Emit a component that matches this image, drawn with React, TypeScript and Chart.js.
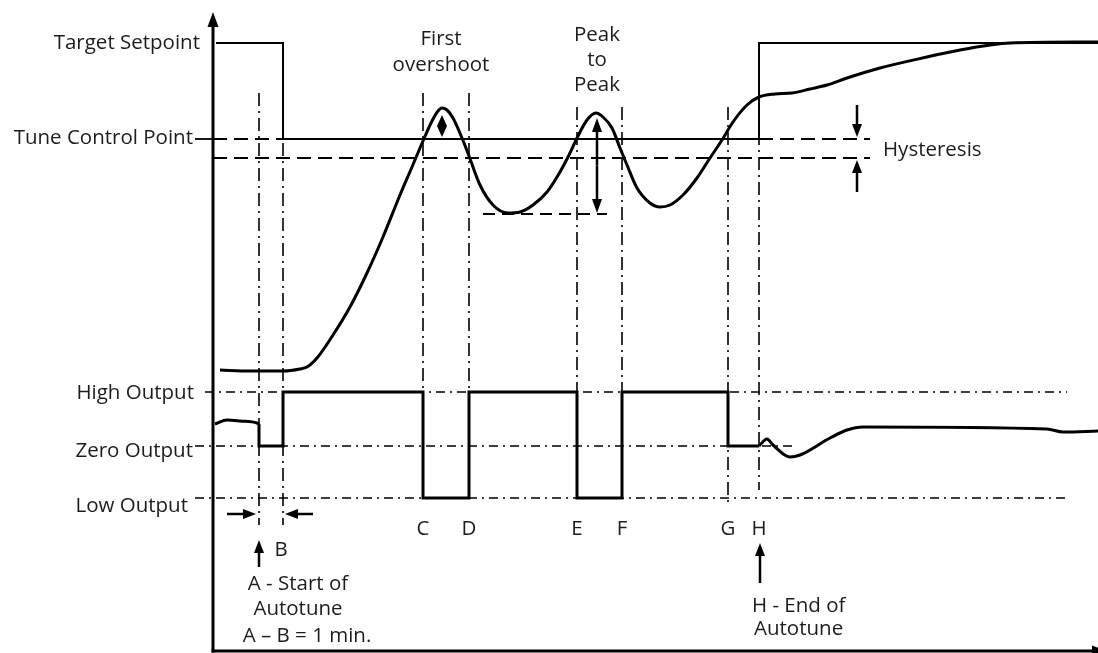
import React, { useEffect, useRef } from 'react';
import { Chart, registerables } from 'chart.js';

Chart.register(...registerables);

// ---- Data (time units along x, signal level along y; 0 = axes origin) ----
const setpointTime = [3, 70, 70, 546, 546, 885];
const setpointValue = [608, 608, 512, 512, 608, 608];

const pvTime = [7, 37, 70, 87, 94, 104, 120, 137, 154, 170, 187, 199, 210, 219, 225, 229, 234, 240, 249, 256, 267, 280, 295, 307, 320, 334, 347, 357, 364, 374, 383, 390, 399, 407, 414, 424, 437, 447, 457, 470, 484, 497, 509, 520, 534, 546, 562, 579, 597, 614, 634, 667, 714, 747, 777, 797, 885];
const pvValue = [281, 280, 280, 282, 284, 293, 316, 344, 378, 414, 456, 484, 510, 530, 540, 543, 541, 533, 513, 495, 466, 446, 438, 439, 446, 459, 479, 498, 513, 531, 538, 534, 523, 503, 486, 463, 448, 444, 446, 456, 473, 493, 511, 529, 546, 554, 557, 558, 562, 566, 573, 583, 594, 601, 606, 608, 609];

const outStartTime = [2, 14, 27, 44, 46];
const outStartValue = [227, 231, 230, 228, 227];
const outStepTime = [46, 46, 70, 70, 210, 210, 256, 256, 364, 364, 409, 409, 515, 515, 546];
const outStepValue = [227, 205, 205, 259, 259, 153, 153, 259, 259, 153, 153, 259, 259, 205, 205];
const outEndTime = [546, 554, 560, 577, 587, 617, 634, 650, 834, 850, 885];
const outEndValue = [205, 212, 206, 194, 196, 213, 221, 224, 222, 219, 220];

// reference levels
const levelNames = ['Target Setpoint', 'Tune Control Point', 'High Output', 'Zero Output', 'Low Output'];
const levelLabelTime = [-13, -20, -19, -20, -25];
const levelLabelValue = [609, 514, 259, 201, 146];
const tuneControlPoint = 512;
const hysteresisLow = 493;
const highOutput = 259;
const zeroOutput = 205;
const lowOutput = 153;
const bandEnd = 657;
const highEnd = 854;
const zeroEnd = 579;
const lowEnd = 855;
const leaderStart = -18;
const highLeaderStart = -8;

// event markers A..H
const eventNames = ['A', 'B', 'C', 'D', 'E', 'F', 'G', 'H'];
const eventTimes = [46, 70, 210, 256, 364, 409, 515, 546];
const eventTop = [558, 558, 558, 558, 544, 544, 544, 544];
const eventBottom = [126, 126, 153, 153, 153, 153, 149, 161];
const letterLevel = 123;

// trough marker for peak-to-peak
const troughLevel = 437;
const troughStart = 270;
const troughEnd = 394;

// annotation texts
const noteTexts = ['First', 'overshoot', 'Peak', 'to', 'Peak', 'Hysteresis', 'B', 'A - Start of', 'Autotune', 'A \u2013 B = 1 min.', 'H - End of', 'Autotune'];
const noteTime = [228, 228, 384, 384, 384, 670, 68, 85, 85, 94, 539, 541];
const noteValue = [613, 587, 617, 592, 567, 502, 102, 68, 43, 16, 46, 23];
const noteAlign = ['center', 'center', 'center', 'center', 'center', 'left', 'center', 'center', 'center', 'center', 'left', 'left'];

// arrows: [fromTime, fromValue, toTime, toValue]
const arrowFromTime = [644, 644, 46, 547, 14, 100];
const arrowFromValue = [546, 459, 84, 68, 137, 137];
const arrowToTime = [644, 644, 46, 547, 43, 72];
const arrowToValue = [514, 491, 111, 108, 137, 137];

// double arrows: [time, lowValue, highValue]
const dblTime = [229, 384];
const dblLow = [514, 438];
const dblHigh = [536, 533];

const zip = (xs: number[], ys: number[]) => xs.map((x, i) => ({ x, y: ys[i] }));

const DASH = [14, 7];
const DASHDOT_V = [13, 5, 2, 5];
const DASHDOT_H = [9, 5, 2, 5];

function line(data: { x: number; y: number }[], width: number, dash: number[] = [], smooth = false) {
  return {
    data,
    showLine: true,
    borderColor: '#000',
    backgroundColor: '#000',
    borderWidth: width,
    borderDash: dash,
    pointRadius: 0,
    fill: false,
    clip: false as any,
    tension: 0,
    cubicInterpolationMode: smooth ? 'monotone' : 'default',
    borderJoinStyle: 'miter',
    borderCapStyle: 'butt',
  } as any;
}

function drawArrow(ctx: CanvasRenderingContext2D, x1: number, y1: number, x2: number, y2: number, head = 13, w = 10, lw = 2.5) {
  const a = Math.atan2(y2 - y1, x2 - x1);
  const bx = x2 - head * Math.cos(a);
  const by = y2 - head * Math.sin(a);
  ctx.lineWidth = lw;
  ctx.beginPath();
  ctx.moveTo(x1, y1);
  ctx.lineTo(bx, by);
  ctx.stroke();
  ctx.beginPath();
  ctx.moveTo(x2, y2);
  ctx.lineTo(bx + (w / 2) * Math.sin(a), by - (w / 2) * Math.cos(a));
  ctx.lineTo(bx - (w / 2) * Math.sin(a), by + (w / 2) * Math.cos(a));
  ctx.closePath();
  ctx.fill();
}

const FONT = '20.5px "Open Sans", sans-serif';
const CAP_HALF = 7;

const annotations = {
  id: 'annotations',
  afterDatasetsDraw(chart: any) {
    const { ctx, chartArea } = chart;
    const xs = chart.scales.x;
    const ys = chart.scales.y;
    const px = (v: number) => xs.getPixelForValue(v);
    const py = (v: number) => ys.getPixelForValue(v);
    ctx.save();
    ctx.strokeStyle = '#000';
    ctx.fillStyle = '#000';
    ctx.setLineDash([]);
    ctx.lineCap = 'butt';

    // axes
    ctx.lineWidth = 3;
    ctx.beginPath();
    ctx.moveTo(chartArea.left, chartArea.bottom + 1.5);
    ctx.lineTo(chartArea.left, chartArea.top + 10);
    ctx.stroke();
    drawArrow(ctx, chartArea.left, chartArea.top + 10, chartArea.left, chartArea.top, 15, 11, 3);
    ctx.beginPath();
    ctx.moveTo(chartArea.left - 1.5, chartArea.bottom);
    ctx.lineTo(chartArea.right - 8, chartArea.bottom);
    ctx.stroke();
    drawArrow(ctx, chartArea.right - 8, chartArea.bottom, chartArea.right + 8, chartArea.bottom, 14, 11, 3);

    // arrows
    for (let i = 0; i < arrowFromTime.length; i++) {
      drawArrow(ctx, px(arrowFromTime[i]), py(arrowFromValue[i]), px(arrowToTime[i]), py(arrowToValue[i]), 13, 10, 2.5);
    }
    for (let i = 0; i < dblTime.length; i++) {
      const mid = (dblLow[i] + dblHigh[i]) / 2;
      const head = i === 0 ? 11 : 14;
      drawArrow(ctx, px(dblTime[i]), py(mid), px(dblTime[i]), py(dblHigh[i]), head, 10, 2.5);
      drawArrow(ctx, px(dblTime[i]), py(mid), px(dblTime[i]), py(dblLow[i]), head, 10, 2.5);
    }

    // text
    ctx.font = FONT;
    ctx.fillStyle = '#1c1c1c';
    ctx.textBaseline = 'alphabetic';
    ctx.textAlign = 'right';
    levelNames.forEach((s, i) => ctx.fillText(s, px(levelLabelTime[i]), py(levelLabelValue[i]) + CAP_HALF));
    ctx.textAlign = 'center';
    eventNames.forEach((s, i) => {
      if (i < 2) return;
      ctx.fillText(s, px(eventTimes[i]), py(letterLevel) + CAP_HALF);
    });
    noteTexts.forEach((s, i) => {
      ctx.textAlign = noteAlign[i] as CanvasTextAlign;
      ctx.fillText(s, px(noteTime[i]), py(noteValue[i]) + CAP_HALF);
    });
    ctx.restore();
  },
};

export default function App() {
  const ref = useRef<HTMLCanvasElement>(null);
  useEffect(() => {
    const datasets: any[] = [];
    // reference lines
    datasets.push(line([{ x: 0, y: tuneControlPoint }, { x: bandEnd, y: tuneControlPoint }], 1.8, DASH));
    datasets.push(line([{ x: 0, y: hysteresisLow }, { x: bandEnd, y: hysteresisLow }], 1.8, DASH));
    datasets.push(line([{ x: leaderStart, y: tuneControlPoint }, { x: 0, y: tuneControlPoint }], 1.8));
    datasets.push(line([{ x: highLeaderStart, y: highOutput }, { x: highEnd, y: highOutput }], 1.6, DASHDOT_H));
    datasets.push(line([{ x: leaderStart, y: zeroOutput }, { x: zeroEnd, y: zeroOutput }], 1.6, DASHDOT_H));
    datasets.push(line([{ x: leaderStart, y: lowOutput }, { x: lowEnd, y: lowOutput }], 1.6, DASHDOT_H));
    datasets.push(line([{ x: troughStart, y: troughLevel }, { x: troughEnd, y: troughLevel }], 1.8, [12, 7]));
    // event verticals
    eventTimes.forEach((t, i) => {
      datasets.push(line([{ x: t, y: eventTop[i] }, { x: t, y: eventBottom[i] }], 1.6, DASHDOT_V));
    });
    // setpoint
    datasets.push(line(zip(setpointTime, setpointValue), 2));
    // output
    datasets.push(line(zip(outStartTime, outStartValue), 3, [], true));
    datasets.push(line(zip(outStepTime, outStepValue), 3));
    datasets.push(line(zip(outEndTime, outEndValue), 3, [], true));
    // process value
    datasets.push(line(zip(pvTime, pvValue), 3, [], true));

    const chart = new Chart(ref.current as HTMLCanvasElement, {
      type: 'scatter',
      data: { datasets },
      options: {
        responsive: false,
        animation: false,
        devicePixelRatio: 1,
        layout: { padding: { left: 213, top: 12, right: 0, bottom: 2 } },
        plugins: { legend: { display: false }, tooltip: { enabled: false } },
        scales: {
          x: { type: 'linear', min: 0, max: 885, display: false },
          y: { type: 'linear', min: 0, max: 639, display: false },
        },
        elements: { point: { radius: 0 } },
      } as any,
      plugins: [annotations],
    });
    return () => chart.destroy();
  }, []);
  return (
    <div style={{ position: 'absolute', left: 0, top: 0, width: 1098, height: 653, background: '#fff' }}>
      <canvas ref={ref} width={1098} height={653} style={{ display: 'block' }} />
    </div>
  );
}
